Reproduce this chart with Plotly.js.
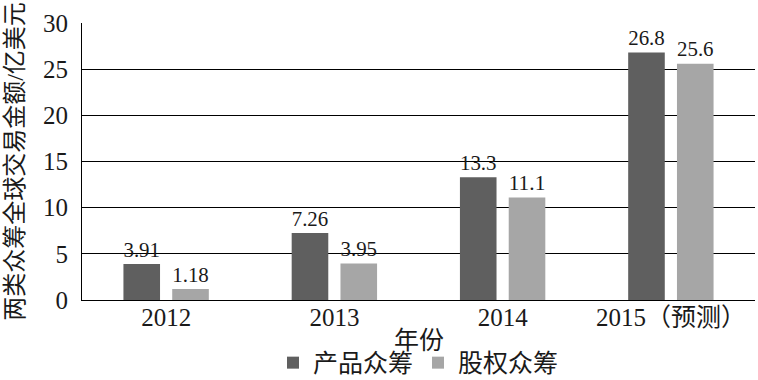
<!DOCTYPE html>
<html><head><meta charset="utf-8">
<script src="https://cdn.plot.ly/plotly-3.0.1.min.js"></script>
<style>html,body{margin:0;padding:0;background:#fff}</style>
</head><body><div id="chart" style="width:758px;height:380px"></div>
<script>
const categories = ["2012", "2013", "2014", "2015（预测）"];
const productValues = [3.91, 7.26, 13.3, 26.8];
const productLabels = ["3.91", "7.26", "13.3", "26.8"];
const equityValues = [1.18, 3.95, 11.1, 25.6];
const equityLabels = ["1.18", "3.95", "11.1", "25.6"];
const yTicks = [0, 5, 10, 15, 20, 25, 30];
const xTitle = "年份";
const yTitle = "两类众筹全球交易金额/亿美元";

const FONT = "'Liberation Serif', 'Times New Roman', 'Noto Sans CJK SC', serif";
const FS = 25;
const TC = "#1a1a1a";

const data = [
  {type: "bar", name: "产品众筹", x: categories, y: productValues, text: productLabels,
   textposition: "outside", cliponaxis: false, marker: {color: "#5f5f5f"},
   textfont: {family: FONT, size: FS, color: TC}, hoverinfo: "none"},
  {type: "bar", name: "股权众筹", x: categories, y: equityValues, text: equityLabels,
   textposition: "outside", cliponaxis: false, marker: {color: "#a6a6a6"},
   textfont: {family: FONT, size: FS, color: TC}, hoverinfo: "none"}
];

const layout = {
  width: 758, height: 380,
  margin: {l: 82, r: 3, t: 23, b: 80, autoexpand: false},
  paper_bgcolor: "#fff", plot_bgcolor: "#fff",
  font: {family: FONT, size: FS, color: TC},
  barmode: "group", bargap: 0.42, bargroupgap: 0.25,
  showlegend: true,
  legend: {orientation: "h", x: 0.5, xanchor: "center", xref: "paper",
           y: 0.045, yref: "container", yanchor: "middle",
           font: {family: FONT, size: FS, color: TC}, itemwidth: 30, traceorder: "normal"},
  xaxis: {type: "category", showline: true, linecolor: "#000", linewidth: 1, ticks: "",
          ticklabelstandoff: -5,
          tickfont: {family: FONT, size: FS, color: TC}},
  yaxis: {range: [0, 30], tickvals: yTicks, showline: true, linecolor: "#000", linewidth: 1,
          showgrid: true, gridcolor: "#000", gridwidth: 1, zeroline: false, ticks: "",
          automargin: true,
          tickfont: {family: FONT, size: FS, color: TC}, ticklabelstandoff: 8,
          title: {text: yTitle, font: {family: FONT, size: 24, color: TC}, standoff: 12}},
  annotations: [
    {text: xTitle, xref: "paper", yref: "paper", x: 0.5, y: -0.145, xanchor: "center", yanchor: "middle",
     showarrow: false, font: {family: FONT, size: FS, color: TC}}
  ]
};

Plotly.newPlot("chart", data, layout, {staticPlot: true, displayModeBar: false});
</script></body></html>
